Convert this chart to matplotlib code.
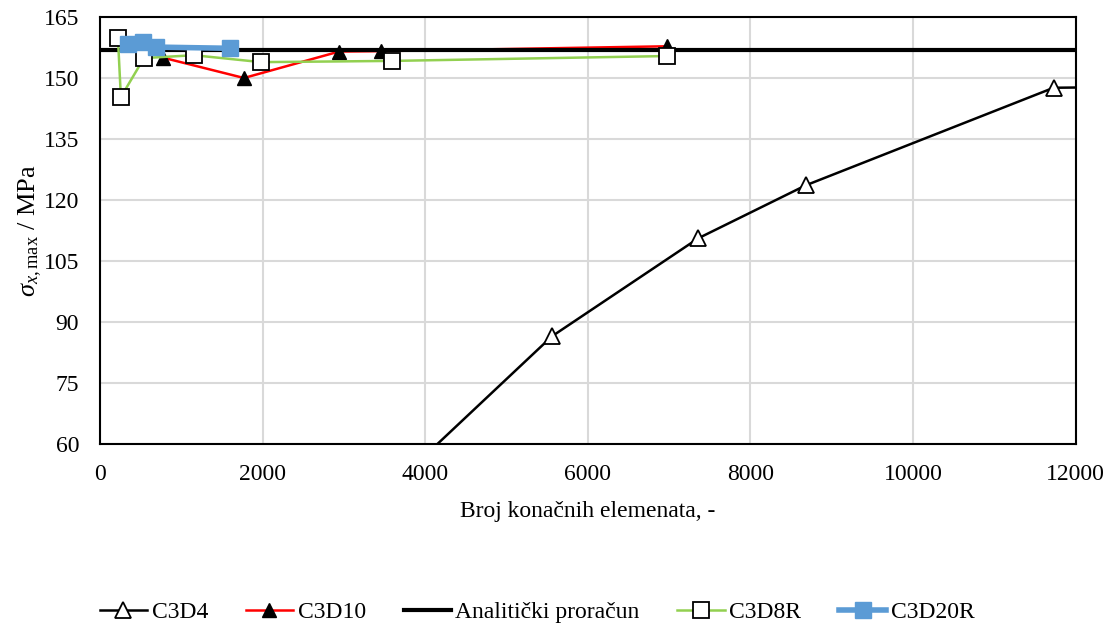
import matplotlib.pyplot as plt

plt.rcParams['font.family'] = ['Liberation Serif', 'DejaVu Serif']
plt.rcParams['mathtext.fontset'] = 'custom'
plt.rcParams['mathtext.rm'] = 'Liberation Serif'
plt.rcParams['mathtext.it'] = 'Liberation Serif:italic'

# C3D4 (last/first points lie outside the visible range)
c3d4_x = [2900, 5560, 7360, 8680, 11730, 16000]
c3d4_y = [36.5, 86.5, 110.6, 123.6, 147.6, 148.5]

c3d10_x = [775, 1772, 2941, 3458, 6978]
c3d10_y = [155.0, 150.0, 156.5, 156.6, 157.8]

analytic_x = [0, 12000]
analytic_y = [157.0, 157.0]

c3d8r_x = [222, 258, 542, 1157, 1982, 3594, 6978]
c3d8r_y = [159.8, 145.3, 154.9, 155.6, 153.9, 154.2, 155.4]

c3d20r_x = [345, 529, 689, 1600]
c3d20r_y = [158.4, 158.9, 157.6, 157.3]

fig = plt.figure(figsize=(11.1, 6.29), dpi=100)
ax = fig.add_axes([0.090, 0.294, 0.879, 0.679])

ax.plot(c3d4_x, c3d4_y, color='black', lw=1.8, marker='^', ms=11,
        mfc='white', mec='black', mew=1.3, label='C3D4', zorder=3)
ax.plot(c3d10_x, c3d10_y, color='#ff0000', lw=1.8, marker='^', ms=10,
        mfc='black', mec='black', label='C3D10', zorder=4)
ax.plot(analytic_x, analytic_y, color='black', lw=3, label='Analitički proračun', zorder=4)
ax.plot(c3d8r_x, c3d8r_y, color='#92d050', lw=1.8, marker='s', ms=11,
        mfc='white', mec='black', mew=1.3, label='C3D8R', zorder=5)
ax.plot(c3d20r_x, c3d20r_y, color='#5b9bd5', lw=4, marker='s', ms=12,
        mfc='#5b9bd5', mec='#5b9bd5', label='C3D20R', zorder=6)

ax.set_xlim(0, 12000)
ax.set_ylim(60, 165)
ax.set_xticks(range(0, 12001, 2000))
ax.set_yticks(range(60, 166, 15))
ax.grid(True, color='#d9d9d9', lw=1.5)
ax.set_axisbelow(True)
ax.tick_params(length=0, labelsize=17)
ax.tick_params(axis='y', pad=15)
ax.tick_params(axis='x', pad=14)
for s in ax.spines.values():
    s.set_linewidth(1.5)
    s.set_color('black')

ax.set_xlabel('Broj konačnih elemenata, -', fontsize=17, labelpad=12)
ax.set_ylabel(r'$\sigma_{x\mathrm{,max}}$ / MPa', fontsize=19, labelpad=0)

fig.legend(loc='lower center', bbox_to_anchor=(0.484, -0.025), ncol=5, frameon=False,
           fontsize=17, handlelength=2.0, handletextpad=0.2, columnspacing=1.6)

fig.savefig('out.png', dpi=100)
